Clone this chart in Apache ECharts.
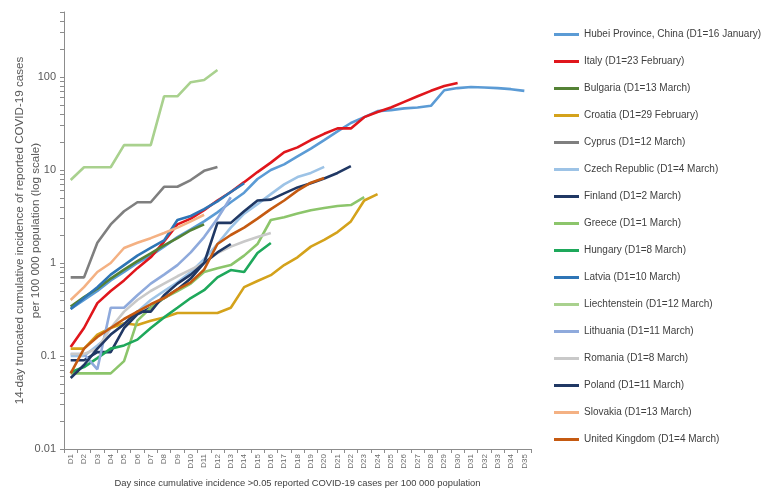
<!DOCTYPE html>
<html>
<head>
<meta charset="utf-8">
<script src="https://cdn.jsdelivr.net/npm/echarts@6/dist/echarts.min.js"></script>
<style>
  html, body { margin: 0; padding: 0; background: #ffffff; }
  #chart { width: 766px; height: 492px; }
</style>
</head>
<body>
<div id="chart"></div>
<script>
// Day labels D1..D35
const days = ['D1','D2','D3','D4','D5','D6','D7','D8','D9','D10','D11','D12','D13','D14','D15','D16','D17','D18','D19','D20','D21','D22','D23','D24','D25','D26','D27','D28','D29','D30','D31','D32','D33','D34','D35'];

// 14-day truncated cumulative incidence per 100 000 population
const hubei = [0.32,0.4,0.5,0.65,0.8,1.0,1.2,1.5,1.9,2.3,2.8,3.5,4.5,5.7,8,10,11.5,14,17,21,26,32,37,43,44,46,47,49,72,76,78,77,76,74,71];
const italy = [0.125,0.2,0.37,0.5,0.65,0.88,1.15,1.7,2.6,3.0,3.7,4.7,5.8,7.4,9.5,12,15.5,17.5,21,24.5,28,28,37,42,47,54,62,71,80,86];
const bulgaria = [0.34,0.43,0.53,0.68,0.85,1.05,1.27,1.55,1.85,2.25,2.6];
const croatia = [0.12,0.12,0.17,0.2,0.225,0.215,0.24,0.26,0.29,0.29,0.29,0.29,0.33,0.55,0.64,0.74,0.95,1.15,1.5,1.77,2.15,2.8,4.7,5.5];
const cyprus = [0.7,0.7,1.65,2.6,3.6,4.5,4.5,6.6,6.6,7.8,9.8,10.8];
const czech = [0.1,0.1,0.13,0.17,0.22,0.3,0.4,0.5,0.62,0.8,1.1,1.6,2.4,3.4,4.3,5.5,7,8.4,9.3,10.8];
const finland = [0.09,0.09,0.11,0.11,0.2,0.28,0.33,0.42,0.52,0.68,1.0,2.7,2.7,3.6,4.7,4.8,5.6,6.5,7.2,8.1,9.3,11];
const greece = [0.065,0.065,0.065,0.065,0.088,0.24,0.33,0.42,0.5,0.6,0.8,0.88,0.95,1.2,1.6,2.9,3.1,3.4,3.7,3.9,4.1,4.2,5.1];
const hungary = [0.067,0.076,0.095,0.12,0.13,0.15,0.2,0.26,0.33,0.42,0.51,0.7,0.84,0.8,1.28,1.64];
const latvia = [0.32,0.42,0.55,0.75,0.95,1.2,1.45,1.75,2.9,3.2,3.8,4.6,5.8,7.2];
const liechtenstein = [7.8,10.7,10.7,10.7,18.5,18.5,18.5,62,62,88,93,119];
const lithuania = [0.105,0.105,0.072,0.33,0.33,0.45,0.6,0.75,0.95,1.3,1.9,3.0,5.1];
const romania = [0.105,0.105,0.12,0.2,0.3,0.4,0.5,0.6,0.72,0.85,1.0,1.28,1.5,1.7,1.9,2.1];
const poland = [0.058,0.08,0.12,0.17,0.22,0.3,0.3,0.45,0.6,0.75,1.0,1.3,1.6];
const slovakia = [0.4,0.55,0.8,1.0,1.45,1.65,1.85,2.1,2.4,2.8,3.3];
const uk = [0.065,0.12,0.16,0.2,0.25,0.3,0.36,0.42,0.52,0.62,0.85,1.6,2.0,2.4,3.0,3.8,4.7,6.0,7.3,8.2];

// Axis tick values (log scale)
const yLabelValues = [0.01, 0.1, 1, 10, 100];
const yTickValues = [0.01,0.02,0.03,0.04,0.05,0.06,0.07,0.08,0.09,
  0.1,0.2,0.3,0.4,0.5,0.6,0.7,0.8,0.9,
  1,2,3,4,5,6,7,8,9,
  10,20,30,40,50,60,70,80,90,
  100,200,300,400,500];

const seriesDefs = [
  { name: 'Hubei Province, China (D1=16 January)', data: hubei, color: '#5b9bd5' },
  { name: 'Italy (D1=23 February)', data: italy, color: '#e0161c' },
  { name: 'Bulgaria (D1=13 March)', data: bulgaria, color: '#548235' },
  { name: 'Croatia (D1=29 February)', data: croatia, color: '#d4a21b' },
  { name: 'Cyprus (D1=12 March)', data: cyprus, color: '#7f7f7f' },
  { name: 'Czech Republic (D1=4 March)', data: czech, color: '#9dc3e6' },
  { name: 'Finland (D1=2 March)', data: finland, color: '#203864' },
  { name: 'Greece (D1=1 March)', data: greece, color: '#8cc56b' },
  { name: 'Hungary (D1=8 March)', data: hungary, color: '#1ea85b' },
  { name: 'Latvia (D1=10 March)', data: latvia, color: '#2e75b6' },
  { name: 'Liechtenstein (D1=12 March)', data: liechtenstein, color: '#a9d18e' },
  { name: 'Lithuania (D1=11 March)', data: lithuania, color: '#8faadc' },
  { name: 'Romania (D1=8 March)', data: romania, color: '#c9c9c9' },
  { name: 'Poland (D1=11 March)', data: poland, color: '#203864' },
  { name: 'Slovakia (D1=13 March)', data: slovakia, color: '#f4b183' },
  { name: 'United Kingdom (D1=4 March)', data: uk, color: '#c55a11' }
];

const chart = echarts.init(document.getElementById('chart'), null, { renderer: 'canvas' });

const font = 'Liberation Sans, Arial, sans-serif';

chart.setOption({
  animation: false,
  backgroundColor: '#ffffff',
  grid: { left: 64, right: 235, top: 12, bottom: 43, outerBoundsMode: 'none', containLabel: false },
  legend: {
    orient: 'vertical',
    left: 549,
    top: 23,
    icon: 'rect',
    itemWidth: 25,
    itemHeight: 3,
    itemGap: 14,
    textStyle: { fontFamily: font, fontSize: 10, color: '#404040', lineHeight: 13 },
    data: seriesDefs.map(s => s.name)
  },
  xAxis: {
    type: 'category',
    data: days,
    boundaryGap: true,
    name: 'Day since cumulative incidence >0.05 reported COVID-19 cases per 100 000 population',
    nameLocation: 'middle',
    nameGap: 30,
    nameTextStyle: { fontFamily: font, fontSize: 9.4, color: '#404040' },
    axisLine: { lineStyle: { color: '#8c8c8c', width: 1 } },
    axisTick: { show: true, length: 4, lineStyle: { color: '#8c8c8c' } },
    axisLabel: { rotate: 90, fontFamily: font, fontSize: 8, color: '#6a6a6a', margin: 5, interval: 0 },
    splitLine: { show: false }
  },
  yAxis: {
    type: 'log',
    logBase: 10,
    min: 0.01,
    max: 500,
    name: '14-day truncated cumulative incidence of reported COVID-19 cases\nper 100 000 population (log scale)',
    nameLocation: 'middle',
    nameRotate: 90,
    nameGap: 20,
    nameMoveOverlap: false,
    nameTextStyle: { fontFamily: font, fontSize: 11.6, color: '#595959', lineHeight: 16 },
    axisLine: { show: true, lineStyle: { color: '#8c8c8c', width: 1 } },
    axisTick: { show: true, length: 4, inside: false, customValues: yTickValues, lineStyle: { color: '#8c8c8c' } },
    axisLabel: {
      customValues: yLabelValues,
      fontFamily: font, fontSize: 11, color: '#595959', margin: 8,
      formatter: v => String(v)
    },
    splitLine: { show: false },
    minorTick: { show: false }
  },
  series: seriesDefs.map(s => ({
    name: s.name,
    type: 'line',
    data: s.data,
    symbol: 'none',
    smooth: false,
    color: s.color,
    lineStyle: { color: s.color, width: 2.6 },
    emphasis: { disabled: true }
  }))
});
</script>
</body>
</html>
